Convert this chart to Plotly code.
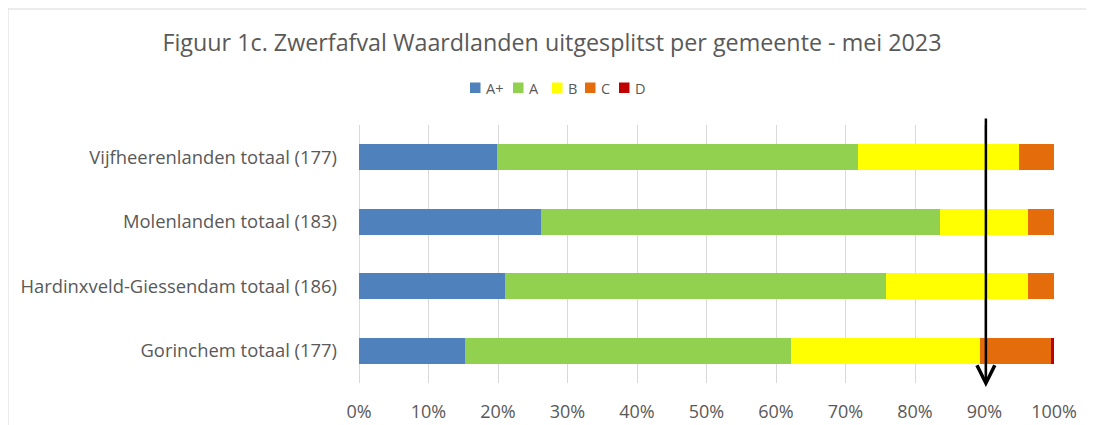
import plotly.graph_objects as go

categories = ["Gorinchem totaal (177)", "Hardinxveld-Giessendam totaal (186)",
              "Molenlanden totaal (183)", "Vijfheerenlanden totaal (177)"]
series_names = ["A+", "A", "B", "C", "D"]
a_plus = [15.3, 21.0, 26.2, 19.8]
a_val = [46.9, 54.8, 57.4, 52.0]
b_val = [27.1, 20.4, 12.6, 23.2]
c_val = [10.2, 3.8, 3.8, 5.0]
d_val = [0.5, 0.0, 0.0, 0.0]
colors = ["#4F81BD", "#92D050", "#FFFF00", "#E46C0A", "#C00000"]
x_ticks = [0, 10, 20, 30, 40, 50, 60, 70, 80, 90, 100]
x_tick_labels = [f"{t}%" for t in x_ticks]
arrow_at = 90.2

FONT = "Open Sans"
GRAY = "#595959"

# page-pixel helpers (the page offsets the figure by 8px)
PL, PR, PT, PB = 359, 1054, 125, 383
def px(X):
    return (X - PL) / (PR - PL)
def py(Y):
    return (PB - Y) / (PB - PT)

fig = go.Figure()
for name, vals, col in zip(series_names, [a_plus, a_val, b_val, c_val, d_val], colors):
    fig.add_trace(go.Bar(name=name, y=categories, x=vals, orientation="h",
                         marker=dict(color=col, line=dict(width=0)),
                         showlegend=False, hoverinfo="x+y+name"))

# custom compact legend (Excel style)
legend_sq_left = [470, 513, 552, 585, 619]
shapes = [dict(type="rect", xref="paper", yref="paper",
               x0=px(8), x1=px(1093), y0=py(440), y1=py(9),
               line=dict(color="#D9D9D9", width=1), fillcolor="rgba(0,0,0,0)", layer="below")]
annotations = []
for name, col, xl in zip(series_names, colors, legend_sq_left):
    shapes.append(dict(type="rect", xref="paper", yref="paper",
                       x0=px(xl), x1=px(xl + 10.5), y0=py(93), y1=py(82.5),
                       line=dict(width=0), fillcolor=col))
    annotations.append(dict(x=px(xl + 14), y=py(88), xref="paper", yref="paper",
                            text=name, showarrow=False, xanchor="left", yanchor="middle",
                            font=dict(family=FONT, size=14.5, color=GRAY)))

annotations.append(dict(x=arrow_at, xref="x", y=py(387), yref="paper",
                        ax=0, ay=-(387 - 117), axref="pixel", ayref="pixel", text="",
                        showarrow=True, arrowhead=5, arrowsize=1.4, arrowwidth=2.5,
                        arrowcolor="black"))

fig.update_layout(
    barmode="stack",
    bargap=0.6,
    width=1086, height=417,
    margin=dict(l=351, r=40, t=117, b=42, autoexpand=False),
    paper_bgcolor="white", plot_bgcolor="white",
    font=dict(family=FONT, color=GRAY, size=17),
    title=dict(text="Figuur 1c. Zwerfafval Waardlanden uitgesplitst per gemeente - mei 2023",
               x=544 / 1086, xref="container", xanchor="center",
               y=1 - (43 - 8) / 417, yref="container", yanchor="middle",
               font=dict(family=FONT, size=23.3, color=GRAY)),
    xaxis=dict(range=[0, 100], tickvals=x_ticks, ticktext=x_tick_labels, automargin=False,
               showgrid=True, gridcolor="#D9D9D9", gridwidth=1.3,
               zeroline=True, zerolinecolor="#D9D9D9", zerolinewidth=1.3, showline=False,
               ticks="", ticklabelstandoff=16, tickfont=dict(family=FONT, size=18, color=GRAY)),
    yaxis=dict(showgrid=False, showline=False, ticks="", ticklabelstandoff=21, automargin=False,
               tickfont=dict(family=FONT, size=18.4, color=GRAY)),
    shapes=shapes,
    annotations=annotations,
)

fig.write_html("out.html")
